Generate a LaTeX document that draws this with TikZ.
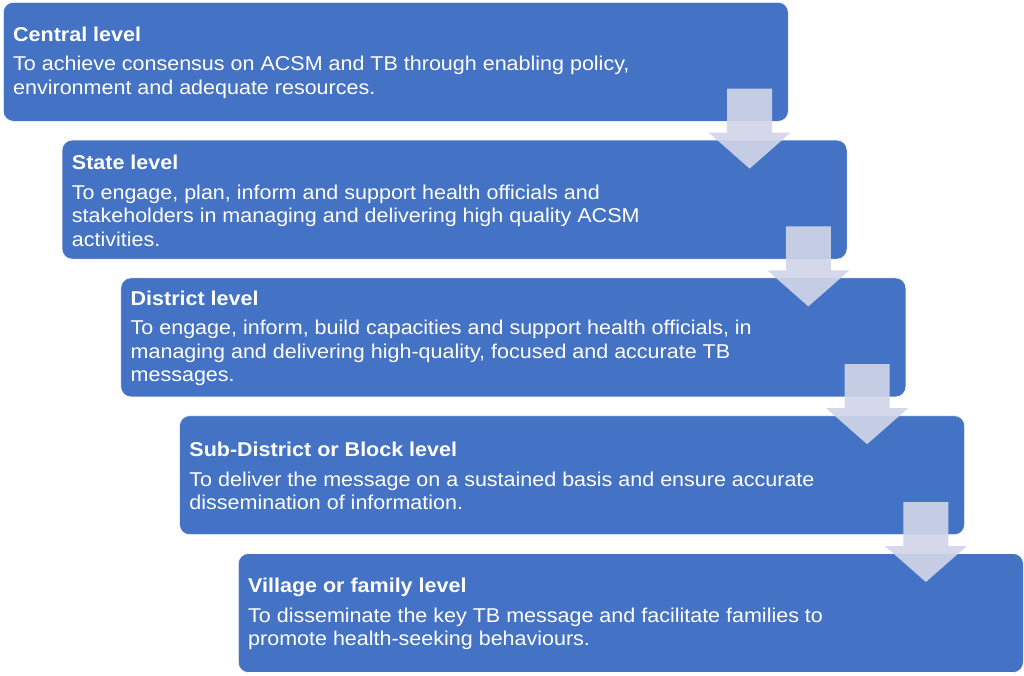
\documentclass[tikz,border=0pt]{standalone}
\usepackage{fontspec}
\setmainfont{Liberation Sans}
\newfontfamily\levelfont[FakeStretch=1.075]{Liberation Sans}
\definecolor{boxblue}{RGB}{68,114,196}
\definecolor{arrowfill}{RGB}{208,213,232}
\begin{document}
\begin{tikzpicture}[x=1pt,y=-1pt,
  levelbox/.style={draw=white, line width=0.6pt, fill=boxblue, rounded corners=10pt,
    minimum width=785pt, minimum height=119pt, anchor=north west, inner sep=0pt},
  leveltext/.style={anchor=west, align=left, text=white, inner sep=0pt,
    font=\levelfont\fontsize{20}{23.5}\selectfont},
  downarrow/.style={fill=arrowfill, fill opacity=0.92, draw=none}]
\useasboundingbox (0,0) rectangle (1024,675);
\node[levelbox] (b1) at (3,2) {};
\node[levelbox] (b2) at (61.75,139.8) {};
\node[levelbox] (b3) at (120.5,277.6) {};
\node[levelbox] (b4) at (179.25,415.4) {};
\node[levelbox] (b5) at (238,553.2) {};
\node[leveltext] (t1) at ([xshift=10pt,yshift=-1pt]b1.west) {\textbf{Central level}\\[6pt]
To achieve consensus on ACSM and TB through enabling policy,\\
environment and adequate resources.};
\node[leveltext] (t2) at ([xshift=10pt,yshift=-1pt]b2.west) {\textbf{State level}\\[6pt]
To engage, plan, inform and support health officials and\\
stakeholders in managing and delivering high quality ACSM\\
activities.};
\node[leveltext] (t3) at ([xshift=10pt,yshift=-1pt]b3.west) {\textbf{District level}\\[6pt]
To engage, inform, build capacities and support health officials, in\\
managing and delivering high-quality, focused and accurate TB\\
messages.};
\node[leveltext] (t4) at ([xshift=10pt,yshift=-1pt]b4.west) {\textbf{Sub-District or Block level}\\[6pt]
To deliver the message on a sustained basis and ensure accurate\\
dissemination of information.};
\node[leveltext] (t5) at ([xshift=10pt,yshift=-1pt]b5.west) {\textbf{Village or family level}\\[6pt]
To disseminate the key TB message and facilitate families to\\
promote health-seeking behaviours.};
\foreach \i in {1,2,3,4}{
  \coordinate (a\i) at ([xshift=-39pt,yshift=33pt]b\i.south east);
  \path[downarrow] (a\i) ++(-22.5,0) -- ++(0,44) -- ++(-18.5,0) -- ++(41,36)
    -- ++(41,-36) -- ++(-18.5,0) -- ++(0,-44) -- cycle;
}
\end{tikzpicture}
\end{document}
